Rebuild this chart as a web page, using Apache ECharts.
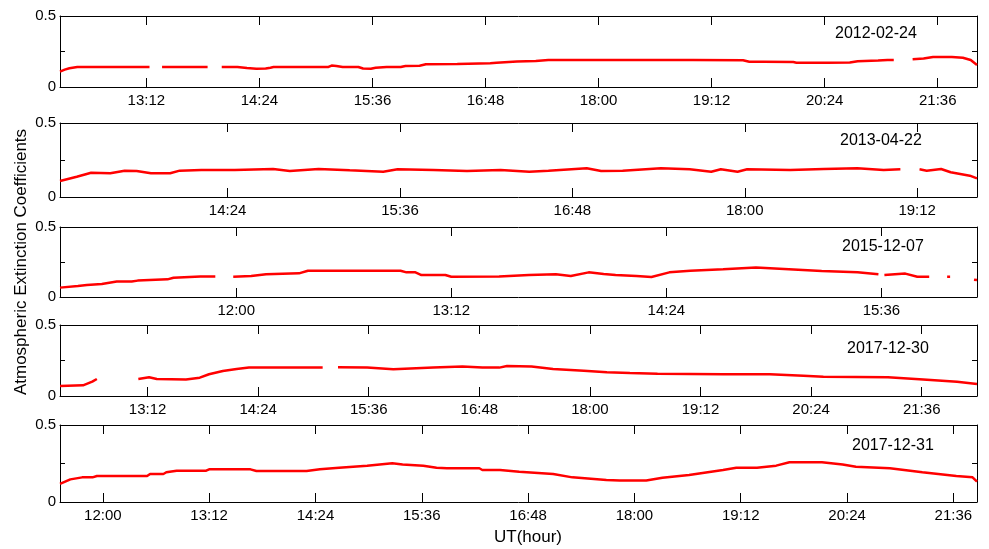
<!DOCTYPE html>
<html>
<head>
<meta charset="utf-8">
<title>Atmospheric Extinction Coefficients</title>
<script src="https://cdn.jsdelivr.net/npm/echarts@6/dist/echarts.min.js"></script>
<style>
    html, body { margin: 0; padding: 0; background: #fff; }
    #chart_box { width: 989px; height: 549px; }
</style>
</head>
<body>
<div id="chart_box"></div>
<script>
// panel dates
var dates = ['2012-02-24', '2013-04-22', '2015-12-07', '2017-12-30', '2017-12-31'];

// x range of each panel (UT)
var ranges = [
    ['12:17', '22:01'],
    ['13:14', '19:37'],
    ['11:01', '16:08'],
    ['12:15', '22:12'],
    ['11:31', '21:52']
];

// tick labels of each panel
var ticks1 = ['13:12', '14:24', '15:36', '16:48', '18:00', '19:12', '20:24', '21:36'];
var ticks2 = ['14:24', '15:36', '16:48', '18:00', '19:12'];
var ticks3 = ['12:00', '13:12', '14:24', '15:36'];
var ticks4 = ['13:12', '14:24', '15:36', '16:48', '18:00', '19:12', '20:24', '21:36'];
var ticks5 = ['12:00', '13:12', '14:24', '15:36', '16:48', '18:00', '19:12', '20:24', '21:36'];

// 2012-02-24  (null = no data)
var times1 = ['12:17', '12:20', '12:23', '12:28', '12:45', '13:00', '13:14', '13:18', '13:22', '13:35', '13:51', '13:55',
    '14:00', '14:10', '14:16', '14:22', '14:28', '14:31', '14:33', '14:50', '15:08', '15:10', '15:13', '15:17', '15:27',
    '15:30', '15:35', '15:38', '15:45', '15:54', '15:57', '16:06', '16:10', '16:30', '16:51', '16:55', '17:08', '17:20',
    '17:28', '18:00', '18:30', '19:00', '19:32', '19:36', '19:45', '20:04', '20:06', '20:25', '20:40', '20:45', '20:58',
    '21:04', '21:08', '21:12', '21:20', '21:27', '21:33', '21:45', '21:52', '21:57', '22:01'];
var values1 = [0.108, 0.122, 0.132, 0.141, 0.141, 0.141, 0.141, null, 0.141, 0.141, 0.141, null,
    0.141, 0.141, 0.133, 0.129, 0.130, 0.136, 0.141, 0.141, 0.141, 0.151, 0.148, 0.141, 0.141,
    0.130, 0.129, 0.136, 0.141, 0.141, 0.148, 0.150, 0.160, 0.162, 0.167, 0.170, 0.180, 0.183,
    0.190, 0.190, 0.190, 0.190, 0.188, 0.178, 0.178, 0.176, 0.171, 0.171, 0.172, 0.182, 0.186,
    0.190, 0.190, null, 0.195, 0.200, 0.211, 0.211, 0.206, 0.190, 0.155];

// 2013-04-22
var times2 = ['13:14', '13:21', '13:27', '13:35', '13:41', '13:46', '13:52', '14:00', '14:04', '14:13', '14:27', '14:43',
    '14:50', '15:02', '15:15', '15:29', '15:35', '15:50', '16:04', '16:18', '16:30', '16:38', '16:54', '17:00', '17:09',
    '17:25', '17:37', '17:46', '17:50', '17:57', '18:01', '18:19', '18:33', '18:47', '18:58', '19:05', '19:08', '19:13',
    '19:16', '19:22', '19:26', '19:34', '19:37'];
var values2 = [0.108, 0.137, 0.164, 0.160, 0.178, 0.176, 0.160, 0.160, 0.178, 0.182, 0.182, 0.189,
    0.176, 0.189, 0.180, 0.171, 0.187, 0.182, 0.176, 0.182, 0.171, 0.178, 0.194, 0.176, 0.178,
    0.194, 0.187, 0.171, 0.187, 0.171, 0.187, 0.182, 0.189, 0.194, 0.182, 0.187, null, 0.187,
    0.178, 0.189, 0.167, 0.144, 0.126];

// 2015-12-07
var times3 = ['11:01', '11:07', '11:10', '11:15', '11:20', '11:25', '11:27', '11:37', '11:39', '11:48', '11:53', '11:56',
    '11:59', '12:05', '12:10', '12:21', '12:24', '12:41', '12:55', '12:57', '13:00', '13:02', '13:10', '13:12', '13:28',
    '13:38', '13:47', '13:52', '13:58', '14:03', '14:07', '14:14', '14:19', '14:25', '14:32', '14:43', '14:54', '15:05',
    '15:16', '15:28', '15:35', '15:36', '15:37', '15:44', '15:48', '15:52', '15:55', '15:58', '15:59', '16:03', '16:07',
    '16:08'];
var values3 = [0.067, 0.079, 0.086, 0.093, 0.110, 0.110, 0.117, 0.126, 0.138, 0.147, 0.147, null,
    0.145, 0.150, 0.162, 0.169, 0.188, 0.188, 0.188, 0.176, 0.176, 0.157, 0.157, 0.145, 0.147,
    0.157, 0.162, 0.150, 0.176, 0.164, 0.157, 0.150, 0.143, 0.176, 0.188, 0.198, 0.210, 0.198,
    0.186, 0.176, 0.162, null, 0.157, 0.167, 0.145, 0.145, null, 0.145, 0.145, null, 0.124,
    0.121];

// 2017-12-30
var times4 = ['12:15', '12:30', '12:36', '12:39', '12:41', '13:06', '13:13', '13:18', '13:37', '13:46', '13:52', '14:01',
    '14:10', '14:18', '14:30', '15:06', '15:10', '15:16', '15:35', '15:52', '16:18', '16:37', '16:50', '17:01', '17:06',
    '17:22', '17:36', '17:56', '18:11', '18:26', '18:44', '19:05', '19:27', '19:57', '20:19', '20:32', '21:14', '21:37',
    '21:59', '22:12'];
var values4 = [0.070, 0.075, 0.101, 0.120, null, 0.120, 0.132, 0.120, 0.117, 0.129, 0.153, 0.176,
    0.190, 0.200, 0.200, 0.200, null, 0.202, 0.200, 0.188, 0.200, 0.207, 0.200, 0.200, 0.211,
    0.207, 0.190, 0.178, 0.167, 0.162, 0.157, 0.155, 0.153, 0.153, 0.143, 0.136, 0.132, 0.117,
    0.101, 0.085];

// 2017-12-31
var times5 = ['11:31', '11:38', '11:46', '11:53', '11:56', '12:30', '12:32', '12:41', '12:43', '12:50', '13:10', '13:12',
    '13:40', '13:44', '14:18', '14:27', '14:40', '14:59', '15:16', '15:23', '15:37', '15:46', '15:53', '16:15', '16:17',
    '16:29', '16:42', '17:05', '17:18', '17:41', '17:50', '18:08', '18:19', '18:37', '19:00', '19:09', '19:23', '19:36',
    '19:45', '20:07', '20:21', '20:30', '20:53', '21:15', '21:38', '21:49', '21:52'];
var values5 = [0.117, 0.147, 0.160, 0.160, 0.169, 0.169, 0.182, 0.182, 0.193, 0.203, 0.203, 0.212,
    0.212, 0.201, 0.201, 0.212, 0.223, 0.236, 0.251, 0.244, 0.236, 0.223, 0.219, 0.219, 0.208,
    0.208, 0.197, 0.182, 0.160, 0.143, 0.139, 0.139, 0.158, 0.175, 0.208, 0.223, 0.223, 0.236,
    0.258, 0.258, 0.244, 0.229, 0.219, 0.193, 0.169, 0.160, 0.132];

var yTicks = [0, 0.25, 0.5];
var yLabels = [0, 0.5];

window.EXT = {
    panels: [
        { top: 16, height: 71, ticks: ticks1, times: times1, values: values1, dateX: 880, dateY: 35 },
        { top: 123, height: 74, ticks: ticks2, times: times2, values: values2, dateX: 885, dateY: 142 },
        { top: 227, height: 70, ticks: ticks3, times: times3, values: values3, dateX: 887, dateY: 248 },
        { top: 325, height: 71, ticks: ticks4, times: times4, values: values4, dateX: 892, dateY: 350 },
        { top: 425, height: 77, ticks: ticks5, times: times5, values: values5, dateX: 897, dateY: 447 }
    ],
    font: 'Liberation Sans, Arial, sans-serif',

    toMin: function(s) {
        var p = s.split(':');
        return parseInt(p[0], 10) * 60 + parseInt(p[1], 10);
    },
    toHM: function(m) {
        var h = Math.floor(m / 60), mm = Math.round(m % 60);
        return h + ':' + (mm < 10 ? '0' : '') + mm;
    },

    init: function() {
        var myChart = echarts.init(document.getElementById('chart_box'));
        myChart.setOption(EXT.buildOption());
    },

    buildOption: function() {
        var grid = [], xAxis = [], yAxis = [], series = [], graphic = [];
        var lineStyle = { color: '#000', width: 1 };

        EXT.panels.forEach(function(p, i) {
            var xMin = EXT.toMin(ranges[i][0]);
            var xMax = EXT.toMin(ranges[i][1]);
            var tickMin = p.ticks.map(EXT.toMin);

            grid.push({ left: 60, right: 12, top: p.top, height: p.height });

            // bottom axis with labels
            xAxis.push({
                type: 'value', gridIndex: i, min: xMin, max: xMax, position: 'bottom',
                axisLine: { onZero: false, lineStyle: lineStyle },
                axisTick: { inside: true, length: 9, customValues: tickMin, lineStyle: lineStyle },
                axisLabel: {
                    customValues: tickMin, margin: 6, color: '#000', fontSize: 15, fontFamily: EXT.font,
                    formatter: function(v) { return EXT.toHM(v); }
                },
                splitLine: { show: false }
            });
            // top frame
            xAxis.push({
                type: 'value', gridIndex: i, min: xMin, max: xMax, position: 'top',
                axisLine: { onZero: false, lineStyle: lineStyle },
                axisTick: { inside: true, length: 9, customValues: tickMin, lineStyle: lineStyle },
                axisLabel: { show: false },
                splitLine: { show: false }
            });
            yAxis.push({
                type: 'value', gridIndex: i, min: 0, max: 0.5, position: 'left',
                axisLine: { show: true, onZero: false, lineStyle: lineStyle },
                axisTick: { show: true, inside: true, length: 5, customValues: yTicks, lineStyle: lineStyle },
                axisLabel: { customValues: yLabels, margin: 4, color: '#000', fontSize: 15, fontFamily: EXT.font },
                splitLine: { show: false }
            });
            yAxis.push({
                type: 'value', gridIndex: i, min: 0, max: 0.5, position: 'right',
                axisLine: { show: true, onZero: false, lineStyle: lineStyle },
                axisTick: { show: true, inside: true, length: 5, customValues: yTicks, lineStyle: lineStyle },
                axisLabel: { show: false },
                splitLine: { show: false }
            });

            var data = p.times.map(function(t, k) {
                return [EXT.toMin(t), p.values[k]];
            });
            series.push({
                type: 'line', xAxisIndex: i * 2, yAxisIndex: i * 2, data: data,
                showSymbol: false, connectNulls: false, animation: false,
                lineStyle: { color: '#ff0000', width: 2.5 },
                itemStyle: { color: '#ff0000' }
            });

            graphic.push({
                type: 'text', left: p.dateX - 45, top: p.dateY - 9,
                style: { text: dates[i], fill: '#000', fontSize: 16, fontFamily: EXT.font }
            });
        });

        graphic.push({
            type: 'text', x: 21, y: 262, rotation: Math.PI / 2,
            style: {
                text: 'Atmospheric Extinction Coefficients', fill: '#000', fontSize: 17,
                fontFamily: EXT.font, align: 'center', verticalAlign: 'middle'
            }
        });
        graphic.push({
            type: 'text', x: 528, y: 537,
            style: {
                text: 'UT(hour)', fill: '#000', fontSize: 17,
                fontFamily: EXT.font, align: 'center', verticalAlign: 'middle'
            }
        });

        return {
            backgroundColor: '#fff',
            animation: false,
            grid: grid,
            xAxis: xAxis,
            yAxis: yAxis,
            series: series,
            graphic: graphic
        };
    }
};

EXT.init();
</script>
</body>
</html>
